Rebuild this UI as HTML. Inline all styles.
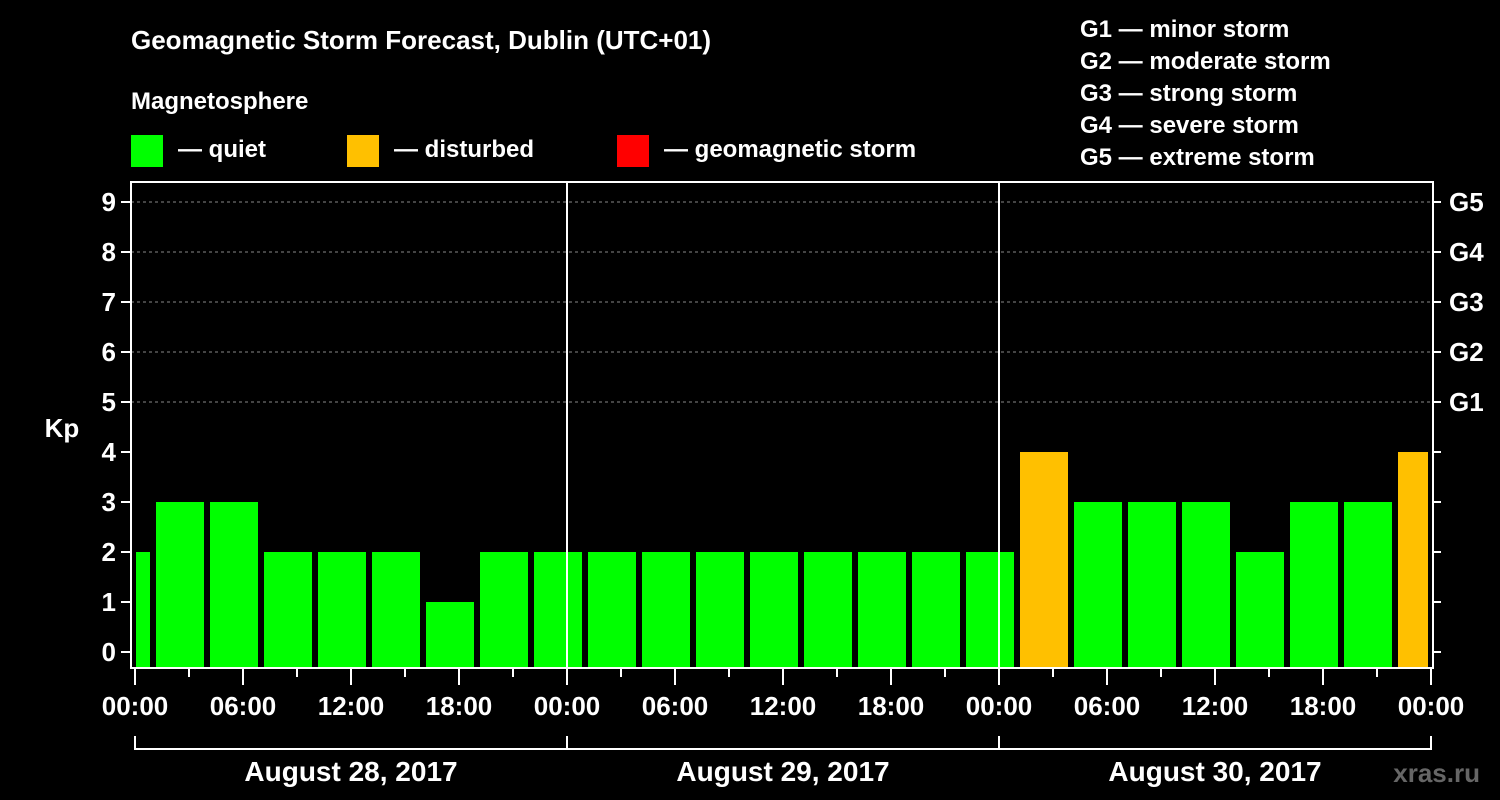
<!DOCTYPE html>
<html><head><meta charset="utf-8"><style>
html,body{margin:0;padding:0;background:#000;}
svg{display:block;font-family:"Liberation Sans",Arial,sans-serif;font-weight:bold;}
</style></head><body>
<svg id="chart" width="1500" height="800" viewBox="0 0 1500 800">
<text x="131" y="49" fill="#fff" font-size="26">Geomagnetic Storm Forecast, Dublin (UTC+01)</text>
<text x="131" y="109" fill="#fff" font-size="24">Magnetosphere</text>
<g><rect x="131" y="135" width="32" height="32" fill="#00ff00"/><text x="178" y="157" fill="#fff" font-size="24">— quiet</text></g>
<g><rect x="347" y="135" width="32" height="32" fill="#ffc000"/><text x="394" y="157" fill="#fff" font-size="24">— disturbed</text></g>
<g><rect x="617" y="135" width="32" height="32" fill="#ff0000"/><text x="664" y="157" fill="#fff" font-size="24">— geomagnetic storm</text></g>
<g fill="#fff" font-size="24">
<text x="1080" y="37">G1 — minor storm</text>
<text x="1080" y="69">G2 — moderate storm</text>
<text x="1080" y="101">G3 — strong storm</text>
<text x="1080" y="133">G4 — severe storm</text>
<text x="1080" y="165">G5 — extreme storm</text>
</g>
<text x="62" y="437" fill="#fff" font-size="26" text-anchor="middle">Kp</text>
<text x="1480" y="782" fill="#666" font-size="26" text-anchor="end">xras.ru</text>
<g id="plot"></g>
</svg>
<script>
const kpValues=[2,3,3,2,2,2,1,2,2,2,2,2,2,2,2,2,2,4,3,3,3,2,3,3,4];
const yTicks=[0,1,2,3,4,5,6,7,8,9];
const gLabels=["G1","G2","G3","G4","G5"];
const gLevels=[5,6,7,8,9];
const hourLabels=["00:00","06:00","12:00","18:00"];
const dayLabels=["August 28, 2017","August 29, 2017","August 30, 2017"];
const NS="http://www.w3.org/2000/svg";
const g=document.getElementById('plot');
const L=131,R=1433,T=182,B=668,X0=135,PXH=18;
const y=v=>652-v*50;
const x=h=>X0+h*PXH; // hours from start (local time)
function mk(tag,attrs,parent){const e=document.createElementNS(NS,tag);for(const k in attrs)e.setAttribute(k,attrs[k]);(parent||g).appendChild(e);return e;}
// grid
gLevels.forEach(v=>{const l=mk('line',{x1:L,x2:R,y1:y(v),y2:y(v),stroke:'#888','stroke-dasharray':'3,3','stroke-width':1});

});
// bars: each bar covers UTC 3h interval -> local start = -2 + 3k
kpValues.forEach((v,i)=>{
 let s=x(-2+3*i)+3, e=x(1+3*i)-3;
 if(s<L+4) s=L+5; if(e>R-4) e=R-5;
 const c=v>=5?'#ff0000':(v>=4?'#ffc000':'#00ff00');
 const r=mk('rect',{x:s,y:y(v),width:e-s,height:B-1-y(v),fill:c});
 
 
});
// day separators
[1,2].forEach(d=>{const l=mk('line',{x1:x(24*d),x2:x(24*d),y1:T,y2:B,stroke:'#fff','stroke-width':2});

});
// frame
const f=mk('rect',{x:L,y:T,width:R-L,height:B-T,fill:'none',stroke:'#fff','stroke-width':2});


// y ticks
yTicks.forEach(v=>{
 mk('line',{x1:L-10,x2:L,y1:y(v),y2:y(v),stroke:'#fff','stroke-width':2});
 mk('line',{x1:R,x2:R+8,y1:y(v),y2:y(v),stroke:'#fff','stroke-width':2});
 const t=mk('text',{x:L-15,y:y(v)+9,fill:'#fff','font-size':26,'text-anchor':'end'});t.textContent=v;
 
 
});
gLabels.forEach((lab,i)=>{const t=mk('text',{x:1449,y:y(gLevels[i])+9,fill:'#fff','font-size':26});t.textContent=lab;
 
 });
// x ticks
for(let h=0;h<=72;h+=3){const major=h%6===0;
 mk('line',{x1:x(h),x2:x(h),y1:B,y2:B+(major?17:9),stroke:'#fff','stroke-width':2});}
for(let h=0;h<=72;h+=6){const t=mk('text',{x:x(h),y:715,fill:'#fff','font-size':26,'text-anchor':'middle'});
 t.textContent=hourLabels[(h/6)%4];
 
 }
// day brackets
mk('line',{x1:x(0),x2:x(72),y1:749,y2:749,stroke:'#fff','stroke-width':2});
for(let d=0;d<=3;d++) mk('line',{x1:x(24*d),x2:x(24*d),y1:736,y2:750,stroke:'#fff','stroke-width':2});
dayLabels.forEach((lab,d)=>{const t=mk('text',{x:x(24*d+12),y:781,fill:'#fff','font-size':28,'text-anchor':'middle'});t.textContent=lab;
 
 });
</script>
</body></html>
